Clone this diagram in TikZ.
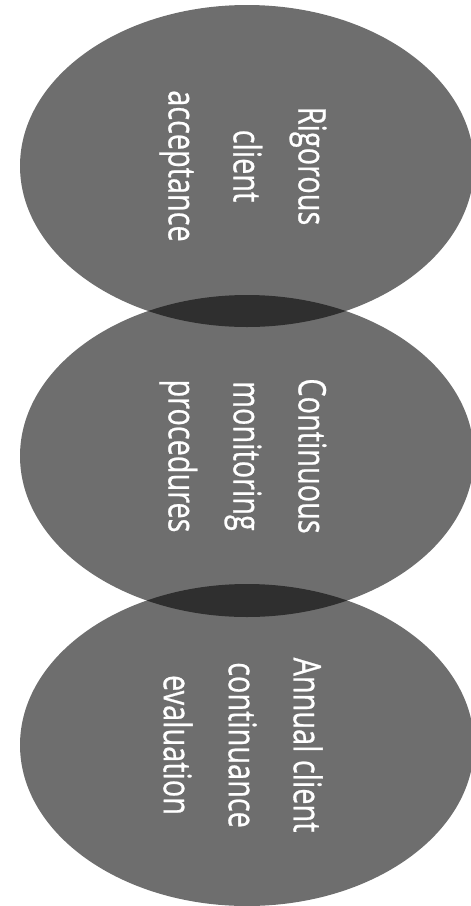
\documentclass[tikz,border=0pt]{standalone}
\usepackage{fontspec}
\setmainfont{Open Sans}
\newfontfamily\capfont[FakeBold=0.8]{Open Sans}
\usetikzlibrary{shapes.geometric}
\tikzset{
  disc/.style={ellipse, minimum width=454pt, minimum height=322pt, inner sep=0pt,
    fill=black, fill opacity=0.57, draw=none},
  discText/.style={rotate=-90, xscale=0.76, text=white, align=center, inner sep=0pt,
    font=\capfont\fontsize{38}{65}\selectfont}
}
\begin{document}
\begin{tikzpicture}[x=1pt, y=1pt]
  \useasboundingbox (0,0) rectangle (471,-906);
  % three overlapping stages
  \node[disc] (d1) at (247,-166) {};
  \node[disc] (d2) at (247,-456) {};
  \node[disc] (d3) at (247,-745) {};
  % stage captions, read top to bottom
  \node[discText] (t1) at ([xshift=-4pt]d1.center) {Rigorous\\client\\acceptance};
  \node[discText] (t2) at ([xshift=-4pt]d2.center) {Continuous\\monitoring\\procedures};
  \node[discText] (t3) at ([xshift=-4pt]d3.center) {Annual client\\continuance\\evaluation};
\end{tikzpicture}
\end{document}
